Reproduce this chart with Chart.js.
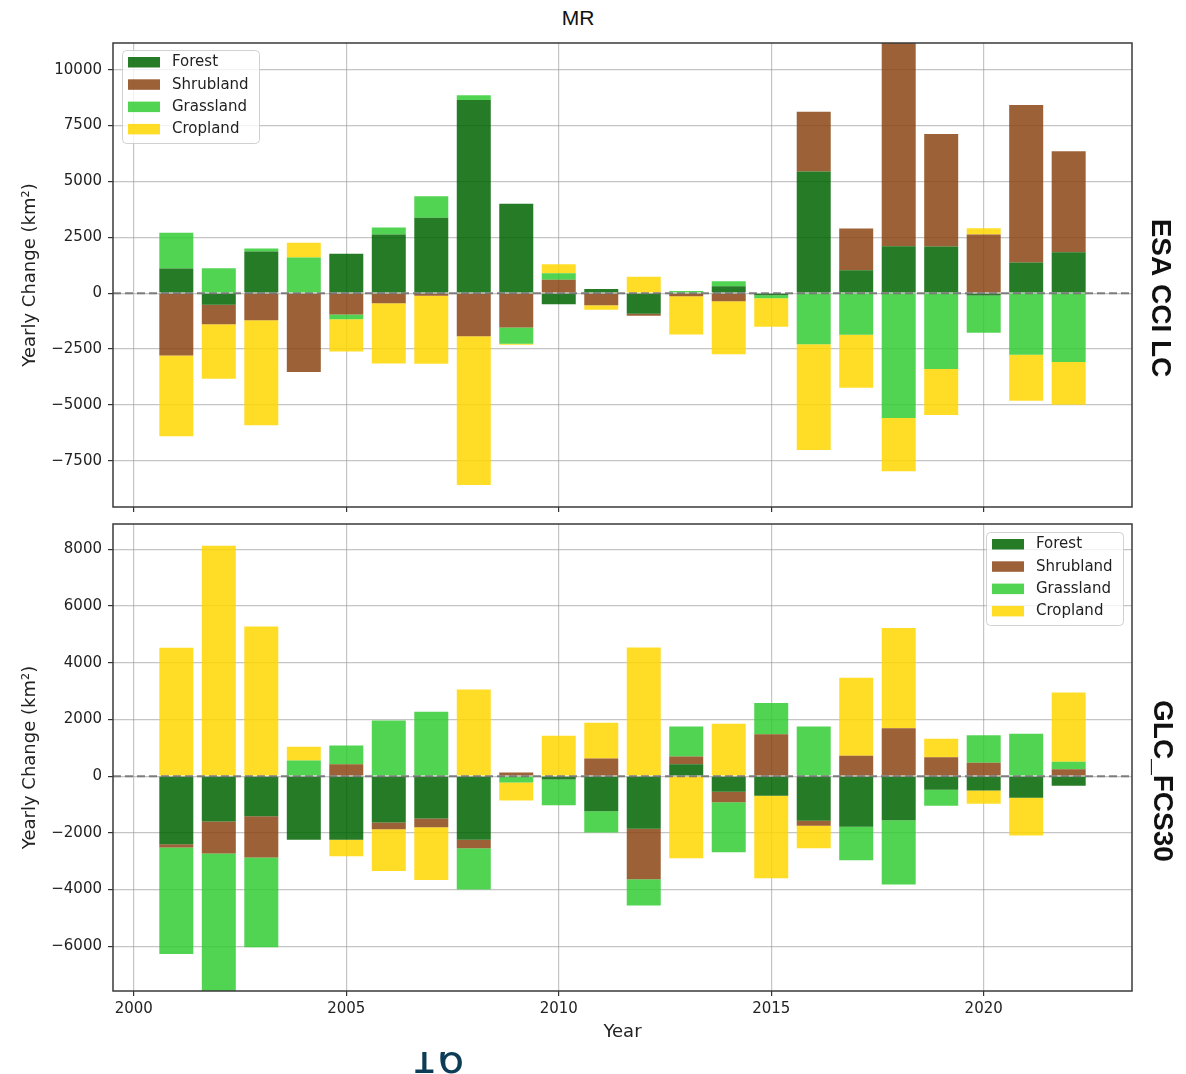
<!DOCTYPE html>
<html>
<head>
<meta charset="utf-8">
<script src="https://cdn.jsdelivr.net/npm/chart.js@4.4.1/dist/chart.umd.min.js"></script>
<style>
  html, body { margin: 0; padding: 0; background: #fff; }
  body { width: 1186px; height: 1074px; position: relative; overflow: hidden; font-family: "DejaVu Sans", sans-serif; }
  #title { position: absolute; left: 0; width: 1156px; top: 7px; text-align: center;
           font: 21px/21px "Liberation Sans", Arial, sans-serif; color: #111; }
  #cvA { position: absolute; left: 0; top: 0; }
  #cvB { position: absolute; left: 0; top: 515px; }
  #pageNo { position: absolute; left: 410px; top: 1052px; width: 80px; height: 22px; overflow: hidden; }
  #pageNo span { position: absolute; left: 0; top: -15px; font: 43px/43px "DejaVu Sans", sans-serif; color: #0d3d56; }
</style>
</head>
<body>
<div id="title">MR</div>
<canvas id="cvA" width="1186" height="520"></canvas>
<canvas id="cvB" width="1186" height="545"></canvas>
<div id="pageNo"><span>16</span></div>
<script>
// Years of yearly change
const years = [2001, 2002, 2003, 2004, 2005, 2006, 2007, 2008, 2009, 2010, 2011,
               2012, 2013, 2014, 2015, 2016, 2017, 2018, 2019, 2020, 2021, 2022];

const classNames = ['Forest', 'Shrubland', 'Grassland', 'Cropland'];

// ESA CCI LC yearly change (km²)
const esaForest    = [1104, -520, 1864, 0, 1761, 2624, 3370, 8645, 3996, -500, 190,
                      -920, 0, 313, -89, 5440, 1028, 2101, 2088, -100, 1372, 1833];
const esaShrubland = [-2785, -866, -1207, -3531, -952, -447, -116, -1922, -1533, 600, -536,
                      -95, -134, -358, 0, 2682, 1864, 9500, 5037, 2624, 7049, 4514];
const esaGrassland = [1600, 1118, 136, 1596, -210, 313, 966, 206, -729, 290, 0,
                      0, 100, 223, -134, -2280, -1860, -5588, -3397, -1670, -2755, -3084];
const esaCropland  = [-3620, -2440, -4707, 657, -1444, -2696, -3040, -6660, -45, 410, -209,
                      730, -1716, -2369, -1283, -4738, -2369, -2382, -2056, 282, -2056, -1905];

// GLC_FCS30 yearly change (km²)
const glcForest    = [-2400, -1600, -1412, -2247, -2247, -1635, -1494, -2247, 0, -120, -1235,
                      -1859, 424, -553, -694, -1576, -1788, -1553, -482, -506, -765, -341];
const glcShrubland = [-118, -1129, -1459, 0, 424, -236, -306, -294, 125, 0, 624,
                      -1776, 270, -365, 1482, -177, 718, 1694, 671, 471, 0, 247];
const glcGrassland = [-3753, -5300, -3164, 553, 658, 1965, 2271, -1459, -222, -910, -753,
                      -930, 1059, -1764, 1095, 1753, -1177, -2271, -565, 976, 1494, 259];
const glcCropland  = [4529, 8130, 5282, 482, -577, -1470, -1859, 3059, -636, 1424, 1258,
                      4541, -2894, 1847, -2906, -788, 2753, 3530, 647, -470, -1329, 2447];

// Tick values
const xTicks   = [2000, 2005, 2010, 2015, 2020];
const esaTicks = [-7500, -5000, -2500, 0, 2500, 5000, 7500, 10000];
const glcTicks = [-6000, -4000, -2000, 0, 2000, 4000, 6000, 8000];

const classColors = ['rgba(0,100,0,0.85)', 'rgba(139,69,19,0.85)',
                     'rgba(50,205,50,0.85)', 'rgba(255,215,0,0.85)'];

const GRID = 'rgba(150,150,150,0.55)';
const TEXT = '#222';
const FONT = 'DejaVu Sans';

const fmt = v => (v < 0 ? '\u2212' + Math.abs(v) : String(v));

// Frame, dashed zero line, legend box and side label
const decor = {
  id: 'decor',
  afterDraw(chart, args, o) {
    const { ctx, chartArea: a } = chart;
    const y0 = chart.scales.y.getPixelForValue(0);
    ctx.save();
    ctx.beginPath();
    ctx.setLineDash([8, 4]);
    ctx.strokeStyle = 'rgba(115,115,115,0.9)';
    ctx.lineWidth = 2;
    ctx.moveTo(a.left, y0);
    ctx.lineTo(a.right, y0);
    ctx.stroke();
    ctx.setLineDash([]);

    ctx.strokeStyle = '#3a3a3a';
    ctx.lineWidth = 1.5;
    ctx.strokeRect(a.left, a.top, a.right - a.left, a.bottom - a.top);

    // legend
    const lx = o.legendX, ly = o.legendY, lw = 137, lh = 93;
    ctx.beginPath();
    ctx.roundRect(lx + 0.5, ly + 0.5, lw, lh, 4);
    ctx.fillStyle = 'rgba(255,255,255,0.8)';
    ctx.fill();
    ctx.strokeStyle = 'rgba(204,204,204,0.9)';
    ctx.lineWidth = 1;
    ctx.stroke();
    ctx.font = '15px "' + FONT + '"';
    ctx.textBaseline = 'middle';
    ctx.textAlign = 'left';
    chart.data.datasets.forEach((ds, i) => {
      const cy = ly + 12 + i * 22.3;
      ctx.fillStyle = ds.backgroundColor;
      ctx.fillRect(lx + 6, cy - 5, 32, 10.5);
      ctx.fillStyle = TEXT;
      ctx.fillText(ds.label, lx + 50, cy + 0.5);
    });

    // side label
    ctx.translate(o.sideX, o.sideY);
    ctx.rotate(Math.PI / 2);
    ctx.font = 'bold 28px "Liberation Sans", Arial, sans-serif';
    ctx.textAlign = 'center';
    ctx.textBaseline = 'middle';
    ctx.fillStyle = '#111';
    ctx.fillText(o.side, 0, 0);
    ctx.restore();
  }
};

function makePanel(canvas, series, yTicks, yMin, yMax, p) {
  const datasets = classNames.map((name, i) => ({
    label: name,
    data: years.map((yr, j) => ({ x: yr, y: series[i][j] })),
    backgroundColor: classColors[i],
    borderWidth: 0,
    barPercentage: 1.0,
    categoryPercentage: 0.8
  }));

  return new Chart(canvas, {
    type: 'bar',
    data: { datasets },
    plugins: [decor],
    options: {
      responsive: false,
      animation: false,
      devicePixelRatio: 1,
      layout: { padding: p.padding },
      plugins: {
        legend: { display: false },
        title: { display: false },
        tooltip: { enabled: false },
        decor: p.decor
      },
      scales: {
        x: {
          type: 'linear',
          min: 1999.51,
          max: 2023.49,
          offset: false,
          stacked: true,
          z: 1,
          border: { display: false },
          grid: { offset: false, color: GRID, lineWidth: 1.2, drawTicks: true,
                  tickLength: 5, tickColor: '#333', tickWidth: 1.2 },
          ticks: { display: p.showX, font: { family: FONT, size: 15 }, color: TEXT,
                   padding: 4, maxRotation: 0, autoSkip: false, callback: v => String(v) },
          title: { display: p.showX, text: 'Year', font: { family: FONT, size: 18 },
                   color: TEXT, padding: { top: 0, bottom: 17 } },
          afterBuildTicks: s => { s.ticks = xTicks.map(v => ({ value: v })); },
          afterFit: s => { s.height = p.xHeight; s.paddingLeft = 0; s.paddingRight = 0; }
        },
        y: {
          min: yMin,
          max: yMax,
          stacked: true,
          z: 1,
          border: { display: false },
          grid: { color: GRID, lineWidth: 1.2, drawTicks: true,
                  tickLength: 5, tickColor: '#333', tickWidth: 1.2 },
          ticks: { font: { family: FONT, size: 15 }, color: TEXT, padding: 6,
                   autoSkip: false, callback: fmt },
          title: { display: true, text: 'Yearly Change (km²)', font: { family: FONT, size: 18 },
                   color: TEXT, padding: { top: 20, bottom: 0 } },
          afterBuildTicks: s => { s.ticks = yTicks.map(v => ({ value: v })); },
          afterFit: s => { s.width = 113; s.paddingTop = 0; s.paddingBottom = 0; }
        }
      }
    }
  });
}

makePanel(document.getElementById('cvA'),
  [esaForest, esaShrubland, esaGrassland, esaCropland],
  esaTicks, -9566, 11193,
  { padding: { top: 43, right: 54, left: 0, bottom: 0 }, showX: false, xHeight: 13,
    decor: { legendX: 122, legendY: 50, side: 'ESA CCI LC', sideX: 1160, sideY: 298 } });

makePanel(document.getElementById('cvB'),
  [glcForest, glcShrubland, glcGrassland, glcCropland],
  glcTicks, -7578, 8895,
  { padding: { top: 9, right: 54, left: 0, bottom: 0 }, showX: true, xHeight: 69,
    decor: { legendX: 986, legendY: 17, side: 'GLC_FCS30', sideX: 1162, sideY: 266 } });
</script>
</body>
</html>
